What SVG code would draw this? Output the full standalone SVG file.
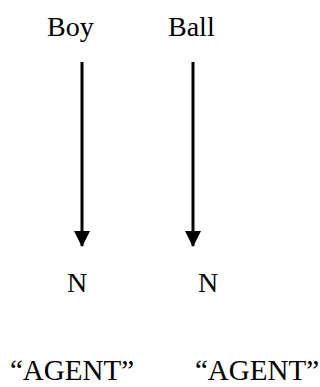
<svg xmlns="http://www.w3.org/2000/svg" width="320" height="387" viewBox="0 0 320 387">
<defs>
<style>
text{font-family:'Liberation Serif','Times New Roman',Times,serif;font-size:28px;fill:#000}
.big{font-size:29px}
.c{stroke:#000;stroke-width:3;fill:none}
</style>
<marker id="ah" markerUnits="userSpaceOnUse" markerWidth="16" markerHeight="16" refX="15" refY="8" orient="auto" viewBox="0 0 16 16">
<path d="M0,0 L16,8 L0,16 Z" fill="#000"/>
</marker>
</defs>
<rect width="320" height="387" fill="#fff"/>
<g id="connectors">
<line class="c" x1="82" y1="62" x2="82" y2="246" marker-end="url(#ah)"/>
<line class="c" x1="193" y1="62" x2="193" y2="246" marker-end="url(#ah)"/>
</g>
<g id="node-boy"><text x="47" y="36">Boy</text></g>
<g id="node-ball"><text x="168" y="36">Ball</text></g>
<g id="node-n1"><text x="67" y="292">N</text></g>
<g id="node-n2"><text x="198" y="292">N</text></g>
<g id="node-agent1"><text class="big" x="10" y="380">“AGENT”</text></g>
<g id="node-agent2"><text class="big" x="195" y="380">“AGENT”</text></g>
</svg>
